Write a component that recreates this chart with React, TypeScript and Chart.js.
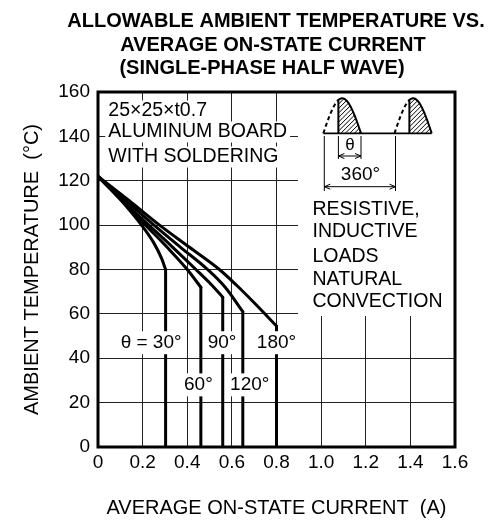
import React, { useEffect, useRef } from 'react';
import { Chart, registerables } from 'chart.js';

Chart.register(...registerables);

// ---------- data ----------
const titleLines = ['ALLOWABLE AMBIENT TEMPERATURE VS.', 'AVERAGE ON-STATE CURRENT', '(SINGLE-PHASE HALF WAVE)'];
const xAxisTitle = 'AVERAGE ON-STATE CURRENT  (A)';
const yAxisTitle = 'AMBIENT TEMPERATURE  (°C)';

const xTickValues = [0, 0.2, 0.4, 0.6, 0.8, 1.0, 1.2, 1.4, 1.6];
const xTickLabels = ['0', '0.2', '0.4', '0.6', '0.8', '1.0', '1.2', '1.4', '1.6'];
const yTickValues = [0, 20, 40, 60, 80, 100, 120, 140, 160];
const yTickLabels = ['0', '20', '40', '60', '80', '100', '120', '140', '160'];

const angleLabels = ['θ = 30°', '60°', '90°', '120°', '180°'];

const current30 = [0, 0.1, 0.195, 0.25, 0.285, 0.303];
const temp30 = [122, 111.5, 100, 92, 85, 80];
const current60 = [0, 0.1, 0.213, 0.31, 0.4, 0.461];
const temp60 = [122, 111.8, 100, 90, 80, 72];
const current90 = [0, 0.1, 0.228, 0.335, 0.439, 0.5, 0.559];
const temp90 = [122, 112, 100, 90, 80, 74, 67.5];
const current120 = [0, 0.125, 0.251, 0.37, 0.491, 0.57, 0.649];
const temp120 = [122, 111, 100, 90, 80, 72, 61];
const current180 = [0, 0.14, 0.276, 0.41, 0.544, 0.62, 0.7, 0.8];
const temp180 = [122, 111, 100, 90, 80, 73, 65, 54.5];

const boardNote = ['25×25×t0.7', 'ALUMINUM BOARD', 'WITH SOLDERING'];
const loadNote = ['RESISTIVE,', 'INDUCTIVE', 'LOADS', 'NATURAL', 'CONVECTION'];
const dimLabels = ['θ', '360°'];

const FONT = '"Liberation Sans", Arial, Helvetica, sans-serif';

const seriesCurrents = [current30, current60, current90, current120, current180];
const seriesTemps = [temp30, temp60, temp90, temp120, temp180];

function textBox(ctx: CanvasRenderingContext2D, text: string, x: number, y: number, align: CanvasTextAlign, padX = 3, halfH = 11) {
  const w = ctx.measureText(text).width;
  const left = align === 'center' ? x - w / 2 : align === 'right' ? x - w : x;
  ctx.fillStyle = '#fff';
  ctx.fillRect(left - padX, y - halfH, w + padX * 2, halfH * 2);
  ctx.fillStyle = '#000';
  ctx.textAlign = align;
  ctx.textBaseline = 'middle';
  ctx.fillText(text, x, y);
}

function drawWave(ctx: CanvasRenderingContext2D, x0: number, w: number, base: number, h: number, f: number) {
  const pts = (a: number, b: number) => {
    const arr: number[][] = [];
    for (let i = 0; i <= 40; i++) {
      const t = a + ((b - a) * i) / 40;
      arr.push([x0 + t * w, base - h * Math.sin(Math.PI * t)]);
    }
    return arr;
  };
  const solid = pts(f, 1);
  ctx.save();
  ctx.beginPath();
  ctx.moveTo(x0 + f * w, base);
  solid.forEach(([px, py]) => ctx.lineTo(px, py));
  ctx.closePath();
  ctx.clip();
  ctx.lineWidth = 1;
  ctx.strokeStyle = '#000';
  ctx.beginPath();
  for (let k = -50; k < 60; k += 4.5) {
    ctx.moveTo(x0 + k, base);
    ctx.lineTo(x0 + k + h + 5, base - h - 5);
  }
  ctx.stroke();
  ctx.restore();
  ctx.lineWidth = 2;
  ctx.strokeStyle = '#000';
  ctx.beginPath();
  ctx.moveTo(x0 + f * w, base);
  solid.forEach(([px, py]) => ctx.lineTo(px, py));
  ctx.stroke();
  ctx.setLineDash([4, 3]);
  ctx.beginPath();
  pts(0, f).forEach(([px, py], i) => (i === 0 ? ctx.moveTo(px, py) : ctx.lineTo(px, py)));
  ctx.stroke();
  ctx.setLineDash([]);
}

function drawDim(ctx: CanvasRenderingContext2D, x1: number, x2: number, y: number) {
  ctx.lineWidth = 1;
  ctx.beginPath();
  ctx.moveTo(x1, y);
  ctx.lineTo(x2, y);
  ctx.moveTo(x1 + 6, y - 2.5);
  ctx.lineTo(x1, y);
  ctx.lineTo(x1 + 6, y + 2.5);
  ctx.moveTo(x2 - 6, y - 2.5);
  ctx.lineTo(x2, y);
  ctx.lineTo(x2 - 6, y + 2.5);
  ctx.stroke();
}

const overlayPlugin = {
  id: 'overlay',
  afterDatasetsDraw(chart: any) {
    const { ctx, chartArea: ca, scales } = chart;
    const xs = scales.x;
    const ys = scales.y;
    ctx.save();

    // right white block (icon + load note)
    ctx.fillStyle = '#fff';
    ctx.fillRect(298, ca.top, ca.right - 298, 316 - ca.top);

    // waveform icon
    const base = 133.3;
    ctx.strokeStyle = '#000';
    ctx.lineWidth = 1.8;
    ctx.beginPath();
    ctx.moveTo(323.3, base);
    ctx.lineTo(431.7, base);
    ctx.stroke();
    drawWave(ctx, 323.3, 37.7, base, 35, 0.4);
    drawWave(ctx, 394.5, 37.2, base, 35, 0.4);

    ctx.lineWidth = 1;
    ctx.beginPath();
    ctx.moveTo(338.4, 136);
    ctx.lineTo(338.4, 159);
    ctx.moveTo(361, 136);
    ctx.lineTo(361, 159);
    ctx.moveTo(324.3, 136);
    ctx.lineTo(324.3, 191);
    ctx.moveTo(395.5, 136);
    ctx.lineTo(395.5, 191);
    ctx.stroke();
    drawDim(ctx, 338.4, 361, 156);
    drawDim(ctx, 324.3, 395.5, 186.7);
    ctx.fillStyle = '#000';
    ctx.textAlign = 'center';
    ctx.textBaseline = 'middle';
    ctx.font = `17px ${FONT}`;
    ctx.fillText(dimLabels[0], 350, 145);
    ctx.font = `19px ${FONT}`;
    ctx.fillText(dimLabels[1], 360.5, 175);

    // load note
    ctx.font = `19.5px ${FONT}`;
    const loadY = [210, 231.7, 256.7, 279.2, 302];
    loadNote.forEach((t, i) => {
      ctx.fillStyle = '#000';
      ctx.textAlign = 'left';
      ctx.textBaseline = 'middle';
      ctx.fillText(t, 312.5, loadY[i]);
    });

    // board note
    const boardY = [111, 132, 157];
    boardNote.forEach((t, i) => textBox(ctx, t, 108.3, boardY[i], 'left', 3, 10.5));

    // angle labels
    ctx.font = `19px ${FONT}`;
    const labelPos = [
      [0.238, 47],
      [0.45, 28],
      [0.556, 47],
      [0.68, 28],
      [0.8, 47],
    ];
    angleLabels.forEach((t, i) => {
      textBox(ctx, t, xs.getPixelForValue(labelPos[i][0]), ys.getPixelForValue(labelPos[i][1]), 'center', 2, 11.5);
    });

    // plot border
    ctx.strokeStyle = '#000';
    ctx.lineWidth = 3;
    ctx.strokeRect(ca.left, ca.top, ca.right - ca.left, ca.bottom - ca.top);

    // title
    ctx.font = `bold 20px ${FONT}`;
    ctx.fillStyle = '#000';
    ctx.textAlign = 'center';
    ctx.textBaseline = 'middle';
    const tx = [276, 273, 262];
    const ty = [21.7, 45.7, 68.3];
    titleLines.forEach((t, i) => ctx.fillText(t, tx[i], ty[i]));
    ctx.restore();
  },
};

export default function App() {
  const ref = useRef<HTMLCanvasElement | null>(null);

  useEffect(() => {
    if (!ref.current) return;
    const datasets: any[] = [];
    seriesCurrents.forEach((cur, i) => {
      const tmp = seriesTemps[i];
      datasets.push({
        label: angleLabels[i],
        data: cur.map((x, j) => ({ x, y: tmp[j] })),
        borderColor: '#000',
        borderWidth: 3,
        pointRadius: 0,
        fill: false,
        cubicInterpolationMode: 'monotone',
        borderCapStyle: 'round',
        borderJoinStyle: 'round',
      });
      const last = cur.length - 1;
      datasets.push({
        label: angleLabels[i] + ' limit',
        data: [
          { x: cur[last], y: tmp[last] },
          { x: cur[last], y: 0 },
        ],
        borderColor: '#000',
        borderWidth: 3,
        pointRadius: 0,
        fill: false,
        tension: 0,
        borderCapStyle: 'round',
      });
    });

    const chart = new Chart(ref.current, {
      type: 'line',
      data: { datasets },
      plugins: [overlayPlugin],
      options: {
        animation: false,
        responsive: false,
        layout: { padding: { top: 92, right: 35, left: 0, bottom: 0 } },
        plugins: { legend: { display: false }, tooltip: { enabled: false }, title: { display: false } },
        scales: {
          x: {
            type: 'linear',
            min: 0,
            max: 1.6,
            afterBuildTicks: (s: any) => {
              s.ticks = xTickValues.map((v) => ({ value: v }));
            },
            afterFit: (s: any) => {
              s.height = 73;
            },
            ticks: {
              callback: (_v: any, i: number) => xTickLabels[i],
              font: { family: FONT, size: 19 },
              color: '#000',
              padding: 4,
              maxRotation: 0,
              autoSkip: false,
            },
            grid: { color: '#222', lineWidth: 1, drawTicks: false },
            border: { display: false },
            title: {
              display: true,
              text: xAxisTitle,
              font: { family: FONT, size: 20 },
              color: '#000',
              padding: { top: 0, bottom: 0 },
            },
          },
          y: {
            type: 'linear',
            min: 0,
            max: 160,
            afterBuildTicks: (s: any) => {
              s.ticks = yTickValues.map((v) => ({ value: v }));
            },
            afterFit: (s: any) => {
              s.width = 98;
            },
            ticks: {
              callback: (_v: any, i: number) => yTickLabels[i],
              font: { family: FONT, size: 19 },
              color: '#000',
              padding: 8,
              autoSkip: false,
            },
            grid: { color: '#222', lineWidth: 1, drawTicks: false },
            border: { display: false },
            title: {
              display: true,
              text: yAxisTitle,
              font: { family: FONT, size: 20 },
              color: '#000',
              padding: { top: 20, bottom: 0 },
            },
          },
        },
      },
    });
    return () => chart.destroy();
  }, []);

  return (
    <div style={{ position: 'absolute', left: 0, top: 0, width: 490, height: 520, background: '#fff' }}>
      <canvas ref={ref} width={490} height={520} style={{ width: 490, height: 520 }} />
    </div>
  );
}
